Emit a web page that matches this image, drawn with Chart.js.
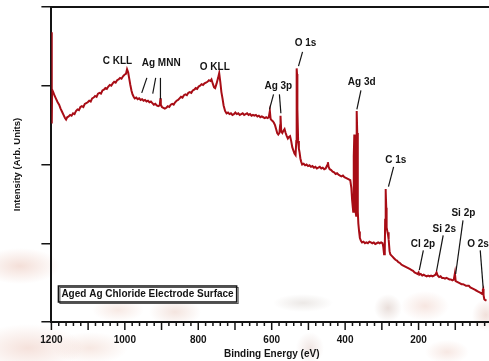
<!DOCTYPE html>
<html>
<head>
<meta charset="utf-8">
<script src="https://cdn.jsdelivr.net/npm/chart.js@4.4.1/dist/chart.umd.min.js"></script>
<style>
  html, body { margin: 0; padding: 0; overflow: hidden; background: #fff; }
  #wrap {
    position: relative; width: 497px; height: 361px;
    background:
      radial-gradient(40px 18px at 20px 266px, rgba(222,160,140,.34), rgba(222,160,140,0)),
      radial-gradient(55px 24px at 28px 348px, rgba(226,168,150,.34), rgba(226,168,150,0)),
      radial-gradient(38px 16px at 90px 348px, rgba(226,172,152,.28), rgba(226,172,152,0)),
      radial-gradient(26px 12px at 118px 310px, rgba(226,172,152,.26), rgba(226,172,152,0)),
      radial-gradient(26px 14px at 175px 312px, rgba(215,160,140,.28), rgba(215,160,140,0)),
      radial-gradient(30px 9px at 303px 303px, rgba(175,160,150,.24), rgba(175,160,150,0)),
      radial-gradient(14px 16px at 310px 348px, rgba(200,160,150,.26), rgba(200,160,150,0)),
      radial-gradient(14px 14px at 388px 308px, rgba(170,130,115,.26), rgba(170,130,115,0)),
      radial-gradient(24px 15px at 425px 306px, rgba(226,172,155,.30), rgba(226,172,155,0)),
      radial-gradient(22px 12px at 447px 352px, rgba(226,172,155,.28), rgba(226,172,155,0)),
      radial-gradient(14px 16px at 486px 315px, rgba(205,145,125,.28), rgba(205,145,125,0)),
      #fff;
  }
</style>
</head>
<body>
<div id="wrap"><canvas id="xps"></canvas></div>
<script>
// XPS survey spectrum: binding energy (eV) and intensity (arbitrary units)
const bindingEnergy = [
  1200,1199,1198,1195,1191,1187,1183,1179,1175,1171,1167,1163,1160,1157,1153,1149,1145,1141,1137,1133,
  1129,1125,1121,1117,1113,1109,1105,1101,1097,1093,1089,1085,1081,1077,1073,1069,1065,1061,1057,1053,
  1049,1045,1041,1037,1033,1029,1025,1021,1017,1013,1009,1005,1001,997,994,991,988,985,982,979,
  976,973,969,965,961,957,953,949,945,941,937,933,929,925,921,917,913,909,905,903,
  902,899,895,891,887,883,879,875,871,867,863,859,855,851,847,843,839,835,831,827,
  823,819,815,811,807,803,799,795,791,787,783,779,775,771,767,764,760,757,754,750,
  746,743,740,737,734,731,727,723,719,715,711,707,703,699,695,691,687,683,679,675,
  671,667,663,659,655,651,647,643,639,635,631,627,623,619,615,611,608,605,603,600,
  597,594,591,588,585,582,579,577,576,574,571,568,565,562,559,556,553,550,547,544,
  541,538,535,533,532,531,530,528,526,524,522,520,517,513,509,505,501,497,493,489,
  485,481,477,473,469,465,461,457,453,449,447,445,442,438,434,430,426,422,418,414,
  410,406,402,398,394,390,386,383,381,379,378,377,376,375,374,373,372,371,370,369,
  368,367,366,365,364,362,360,357,354,350,346,342,338,334,330,326,322,318,314,310,
  306,302,298,296,294,292,291,290,289,288,287,285,283,282,281,279,277,275,271,267,
  263,259,255,251,247,243,239,235,231,227,223,219,215,211,207,203,200,198,194,190,
  186,182,178,174,170,166,162,158,154,151,148,144,140,136,132,128,124,120,116,112,
  108,104,101,99,95,91,87,83,79,75,71,67,63,59,55,51,47,43,39,35,
  31,28,26,25,24,23,21,19,15
];
const intensity = [
  3.68,2.52,2.95,2.92,2.87,2.83,2.79,2.76,2.71,2.67,2.63,2.59,2.57,2.60,2.61,2.63,2.62,2.65,2.64,2.68,
  2.70,2.69,2.73,2.74,2.73,2.77,2.78,2.79,2.81,2.80,2.84,2.85,2.87,2.86,2.90,2.91,2.90,2.94,2.95,2.97,
  2.96,2.99,3.01,3.00,3.03,3.05,3.04,3.07,3.08,3.10,3.09,3.12,3.14,3.15,3.21,3.17,3.09,3.01,2.94,2.89,
  2.86,2.84,2.85,2.83,2.84,2.82,2.83,2.81,2.82,2.80,2.81,2.79,2.80,2.78,2.76,2.77,2.75,2.74,2.75,2.84,
  2.76,2.73,2.72,2.71,2.72,2.74,2.73,2.76,2.77,2.76,2.79,2.81,2.82,2.84,2.86,2.85,2.88,2.89,2.88,2.91,
  2.92,2.91,2.94,2.95,2.97,2.96,2.99,3.00,3.02,3.01,3.03,3.04,3.05,3.07,3.06,3.08,3.02,2.98,2.97,3.03,
  3.10,3.16,3.05,2.92,2.84,2.75,2.68,2.65,2.66,2.64,2.65,2.63,2.64,2.66,2.64,2.65,2.63,2.64,2.65,2.63,
  2.64,2.65,2.63,2.64,2.62,2.63,2.62,2.63,2.61,2.62,2.60,2.61,2.60,2.59,2.60,2.59,2.60,2.68,2.58,2.56,
  2.55,2.53,2.50,2.45,2.40,2.38,2.40,2.50,2.62,2.42,2.40,2.43,2.45,2.40,2.36,2.33,2.35,2.36,2.30,2.22,
  2.18,2.14,2.12,2.30,3.22,3.15,2.70,2.30,2.20,2.15,2.08,2.04,2.00,2.01,1.99,2.00,1.98,1.99,1.97,1.98,
  1.96,1.97,1.95,1.96,1.97,1.95,1.96,1.94,1.95,1.99,2.03,1.97,1.94,1.93,1.91,1.90,1.88,1.89,1.87,1.86,
  1.85,1.86,1.84,1.83,1.82,1.81,1.80,1.70,1.55,1.45,1.40,1.60,2.10,2.38,2.35,1.90,1.55,1.40,1.35,2.20,
  2.68,2.40,1.80,1.40,1.25,1.15,1.07,1.03,1.01,1.02,1.00,1.01,1.00,1.02,1.01,1.00,1.01,0.99,1.00,1.01,
  1.00,1.01,1.00,0.95,0.86,0.90,1.30,1.69,1.66,1.45,1.20,1.15,1.10,1.14,1.05,0.90,0.86,0.85,0.83,0.81,
  0.79,0.78,0.76,0.75,0.73,0.72,0.71,0.70,0.69,0.68,0.67,0.66,0.65,0.63,0.62,0.61,0.63,0.60,0.61,0.59,
  0.60,0.59,0.58,0.59,0.58,0.59,0.58,0.59,0.60,0.63,0.59,0.57,0.58,0.56,0.56,0.55,0.56,0.55,0.54,0.54,
  0.53,0.54,0.62,0.52,0.51,0.50,0.49,0.48,0.48,0.47,0.46,0.46,0.46,0.44,0.43,0.42,0.41,0.40,0.39,0.38,
  0.37,0.36,0.37,0.41,0.42,0.34,0.29,0.28,0.27
];

// Labelled x ticks (eV)
const xTickLabels = [1200, 1000, 800, 600, 400, 200];

// Peak assignments: label text, label centre (eV, intensity), leader lines [eV1, i1, eV2, i2]
const peakNames  = ['C KLL', 'Ag MNN', 'O KLL', 'Ag 3p', 'O 1s', 'Ag 3d', 'C 1s', 'Cl 2p', 'Si 2s', 'Si 2p', 'O 2s'];
const peakLabelE = [1020, 901, 755, 582, 508, 355, 262, 188, 130, 78, 38];
const peakLabelI = [3.31, 3.29, 3.24, 3.00, 3.54, 3.04, 2.05, 0.99, 1.18, 1.38, 0.99];
const peakLeaders = [
  [],
  [[940, 3.10, 954, 2.91], [916, 3.10, 924, 2.90], [903, 3.10, 903, 2.83]],
  [],
  [[595, 2.89, 606, 2.70], [579, 2.89, 575, 2.65]],
  [[516, 3.43, 527, 3.25]],
  [[357, 2.94, 368, 2.70]],
  [[268, 1.97, 282, 1.72]],
  [[187, 0.91, 198, 0.66]],
  [[133, 1.10, 151, 0.65]],
  [[79, 1.29, 99, 0.61]],
  [[32, 0.91, 24, 0.43]]
];

const caption = 'Aged Ag Chloride Electrode Surface';

const FONT = "'Liberation Sans', Arial, Helvetica, sans-serif";
const INK = '#141414';
Chart.defaults.font.family = FONT;
Chart.defaults.color = INK;

// Frame top edge, graded x tick marks, peak labels and caption box
const decorations = {
  id: 'decorations',
  afterDraw(chart) {
    const { ctx, chartArea: a, scales: { x, y } } = chart;
    ctx.save();
    ctx.strokeStyle = INK;
    ctx.lineCap = 'butt';

    // top frame line
    ctx.lineWidth = 2;
    ctx.beginPath();
    ctx.moveTo(a.left - 1, a.top);
    ctx.lineTo(a.right, a.top);
    ctx.stroke();

    // x tick marks: long every 100 eV, short every 20 eV
    ctx.lineWidth = 1.5;
    x.ticks.forEach(t => {
      const px = x.getPixelForValue(t.value);
      const len = t.value % 100 === 0 ? 8 : 4;
      ctx.beginPath();
      ctx.moveTo(px, a.bottom);
      ctx.lineTo(px, a.bottom + len);
      ctx.stroke();
    });

    // peak labels
    ctx.fillStyle = INK;
    ctx.font = 'bold 10px ' + FONT;
    ctx.textAlign = 'center';
    ctx.textBaseline = 'middle';
    ctx.lineWidth = 1.2;
    peakNames.forEach((name, i) => {
      ctx.fillText(name, x.getPixelForValue(peakLabelE[i]), y.getPixelForValue(peakLabelI[i]));
      peakLeaders[i].forEach(s => {
        ctx.beginPath();
        ctx.moveTo(x.getPixelForValue(s[0]), y.getPixelForValue(s[1]));
        ctx.lineTo(x.getPixelForValue(s[2]), y.getPixelForValue(s[3]));
        ctx.stroke();
      });
    });

    // caption box in the lower-left corner of the plot
    const w = ctx.measureText(caption).width + 6;
    const bx = a.left + 7, by = a.bottom - 36, bh = 16;
    ctx.fillStyle = '#fff';
    ctx.fillRect(bx, by, w, bh);
    ctx.strokeStyle = '#555';
    ctx.lineWidth = 1;
    ctx.strokeRect(bx + 1.5, by + 1.5, w, bh);
    ctx.strokeStyle = INK;
    ctx.lineWidth = 1.5;
    ctx.strokeRect(bx, by, w, bh);
    ctx.fillStyle = INK;
    ctx.textAlign = 'left';
    ctx.fillText(caption, bx + 3, by + bh / 2 + 0.5);
    ctx.restore();
  }
};

new Chart(document.getElementById('xps'), {
  type: 'scatter',
  data: {
    datasets: [{
      data: bindingEnergy.map((e, i) => ({ x: e, y: intensity[i] })),
      showLine: true,
      borderColor: '#a80d16',
      borderWidth: 2,
      pointRadius: 0,
      tension: 0,
      fill: false
    }]
  },
  options: {
    responsive: true,
    maintainAspectRatio: false,
    animation: false,
    layout: { padding: { left: 12, top: 7, right: 1, bottom: 0 } },
    plugins: { legend: { display: false }, tooltip: { enabled: false } },
    scales: {
      x: {
        type: 'linear',
        reverse: true,
        min: 0,
        max: 1200,
        ticks: {
          stepSize: 20,
          autoSkip: false,
          maxRotation: 0,
          padding: 5,
          color: INK,
          font: { size: 10, weight: 'bold' },
          callback: v => (xTickLabels.includes(v) ? String(v) : '')
        },
        grid: { display: true, drawOnChartArea: false, drawTicks: true, tickLength: 7, color: 'rgba(0,0,0,0)' },
        border: { display: true, color: INK, width: 2 },
        title: {
          display: true,
          text: 'Binding Energy (eV)',
          color: INK,
          font: { size: 10, weight: 'bold' },
          padding: { top: -3, bottom: 1 }
        }
      },
      y: {
        min: 0,
        max: 4,
        ticks: { stepSize: 1, display: false },
        grid: { display: true, drawOnChartArea: false, drawTicks: true, tickLength: 10, color: INK, lineWidth: 1.5 },
        border: { display: true, color: INK, width: 2 },
        title: {
          display: true,
          text: 'Intensity (Arb. Units)',
          color: INK,
          font: { size: 9.5, weight: 'bold' },
          padding: { top: 0, bottom: 18 }
        }
      }
    }
  },
  plugins: [decorations]
});
</script>
</body>
</html>
